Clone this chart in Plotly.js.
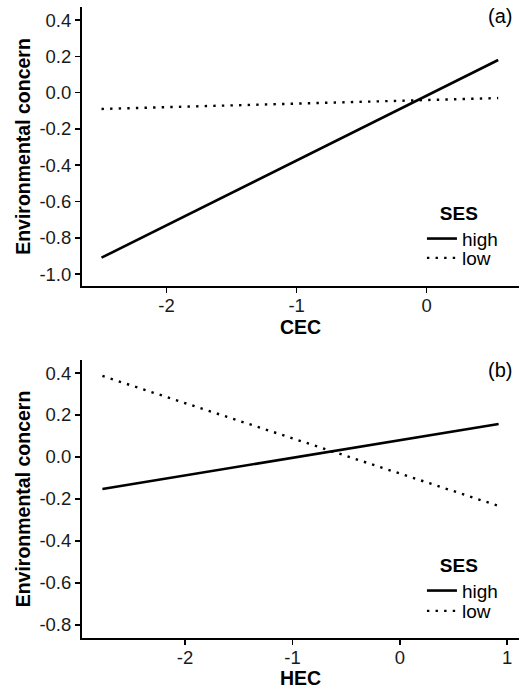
<!DOCTYPE html>
<html><head><meta charset="utf-8">
<script src="https://cdn.plot.ly/plotly-3.0.1.min.js"></script>
<style>html,body{margin:0;padding:0;background:#fff}#chart{width:519px;height:689px}</style>
</head><body><div id="chart"></div>
<script>
// Panel (a): CEC
const cecX = [-2.5, 0.55];
const cecHigh = [-0.91, 0.18];
const cecLow = [-0.09, -0.03];
// Panel (b): HEC
const hecX = [-2.77, 0.92];
const hecHigh = [-0.152, 0.157];
const hecLow = [0.386, -0.233];
const seriesNames = ['high', 'low'];
const legendTitle = 'SES';
const panelLabels = ['(a)', '(b)'];
const xTitles = ['CEC', 'HEC'];
const yTitle = 'Environmental concern';
const aTicks = [-1.0, -0.8, -0.6, -0.4, -0.2, 0.0, 0.2, 0.4];
const bTicks = [-0.8, -0.6, -0.4, -0.2, 0.0, 0.2, 0.4];
const aXTicks = [-2, -1, 0];
const bXTicks = [-2, -1, 0, 1];

const FONT = 'Liberation Sans, Arial, sans-serif';
const solid = {color: '#000', width: 2.6};
const dotted = {color: '#000', width: 2.4, dash: '2.4px,6.2px'};

const traces = [
  {x: cecX, y: cecHigh, mode: 'lines', line: solid, name: seriesNames[0], xaxis: 'x', yaxis: 'y', legend: 'legend'},
  {x: cecX, y: cecLow, mode: 'lines', line: dotted, name: seriesNames[1], xaxis: 'x', yaxis: 'y', legend: 'legend2'},
  {x: hecX, y: hecHigh, mode: 'lines', line: solid, name: seriesNames[0], xaxis: 'x2', yaxis: 'y2', legend: 'legend3'},
  {x: hecX, y: hecLow, mode: 'lines', line: dotted, name: seriesNames[1], xaxis: 'x2', yaxis: 'y2', legend: 'legend4'}
];

function xax(title, ticks, range, anchor) {
  return {
    domain: [82/519, 1], range: range, anchor: anchor,
    showline: true, linecolor: '#000', linewidth: 2, mirror: false,
    showgrid: false, zeroline: false,
    ticks: 'outside', ticklen: 5, tickwidth: 1.5, tickcolor: '#000',
    ticklabelstandoff: -3,
    tickvals: ticks, ticktext: ticks.map(v => String(v)),
    tickfont: {family: FONT, size: 18.5, color: '#1a1a1a'},
    title: {text: '<b>' + title + '</b>', font: {family: FONT, size: 19.5, color: '#000'}, standoff: 3}
  };
}
function yax(ticks, range, domain, anchor) {
  return {
    domain: domain, range: range, anchor: anchor,
    showline: true, linecolor: '#000', linewidth: 2,
    showgrid: false, zeroline: false,
    ticks: 'outside', ticklen: 5, tickwidth: 1.5, tickcolor: '#000',
    tickvals: ticks, ticktext: ticks.map(v => v.toFixed(1)),
    tickfont: {family: FONT, size: 18.5, color: '#1a1a1a'},
    title: {text: '<b>' + yTitle + '</b>', font: {family: FONT, size: 19.5, color: '#000'}, standoff: 4}
  };
}
function leg(top, withTitle) {
  const l = {
    x: 0.813, y: 1 - top/689, xanchor: 'left', yanchor: 'top',
    bgcolor: 'rgba(0,0,0,0)', borderwidth: 0,
    font: {family: FONT, size: 19, color: '#000'},
    tracegroupgap: 0, itemwidth: 30
  };
  if (withTitle) l.title = {text: '\u00A0\u00A0\u00A0<b>' + legendTitle + '</b>', font: {family: FONT, size: 19, color: '#000'}};
  return l;
}

const layout = {
  width: 519, height: 689,
  margin: {l: 0, r: 0, t: 0, b: 0},
  paper_bgcolor: '#fff', plot_bgcolor: '#fff',
  showlegend: true,
  xaxis: xax(xTitles[0], aXTicks, [-2.65, 0.71], 'y'),
  yaxis: yax(aTicks, [-1.066, 0.472], [(689-286)/689, (689-7)/689], 'x'),
  xaxis2: xax(xTitles[1], bXTicks, [-2.96, 1.11], 'y2'),
  yaxis2: yax(bTicks, [-0.862, 0.462], [(689-638)/689, (689-360)/689], 'x2'),
  legend: leg(195, true),
  legend2: leg(239, false),
  legend3: leg(547, true),
  legend4: leg(592, false),
  annotations: [
    {text: panelLabels[0], xref: 'paper', yref: 'paper', x: 500/519, y: 1 - 16/689, xanchor: 'center', yanchor: 'middle', showarrow: false, font: {family: FONT, size: 20, color: '#000'}},
    {text: panelLabels[1], xref: 'paper', yref: 'paper', x: 500/519, y: 1 - 370/689, xanchor: 'center', yanchor: 'middle', showarrow: false, font: {family: FONT, size: 20, color: '#000'}}
  ]
};

Plotly.newPlot('chart', traces, layout, {displayModeBar: false, staticPlot: true});
</script></body></html>
